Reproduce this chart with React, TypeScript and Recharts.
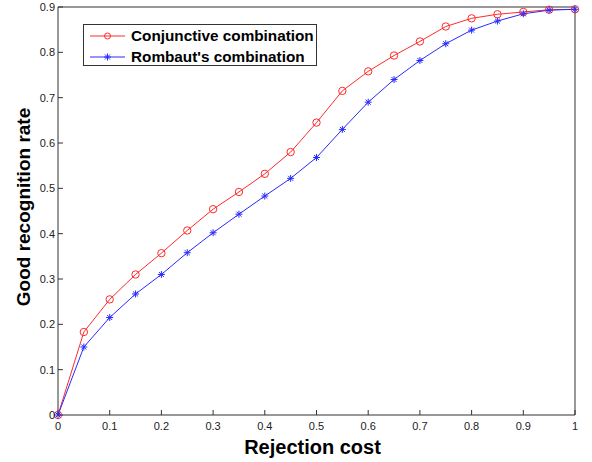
import { CartesianGrid, Label, Legend, Line, LineChart, XAxis, YAxis } from "recharts";

// Rejection cost (x) against good recognition rate for the two combination rules.
const rejectionCost = [
  0, 0.05, 0.1, 0.15, 0.2, 0.25, 0.3, 0.35, 0.4, 0.45, 0.5,
  0.55, 0.6, 0.65, 0.7, 0.75, 0.8, 0.85, 0.9, 0.95, 1,
];
const conjunctive = [
  0, 0.183, 0.255, 0.31, 0.357, 0.407, 0.454, 0.492, 0.532, 0.58, 0.645,
  0.715, 0.758, 0.793, 0.824, 0.857, 0.875, 0.884, 0.889, 0.894, 0.895,
];
const rombaut = [
  0, 0.15, 0.215, 0.267, 0.31, 0.358, 0.402, 0.443, 0.483, 0.522, 0.568,
  0.63, 0.69, 0.74, 0.782, 0.819, 0.849, 0.869, 0.885, 0.893, 0.895,
];
const xTicks = [0, 0.1, 0.2, 0.3, 0.4, 0.5, 0.6, 0.7, 0.8, 0.9, 1];
const yTicks = [0, 0.1, 0.2, 0.3, 0.4, 0.5, 0.6, 0.7, 0.8, 0.9];

const seriesNames = ["Conjunctive combination", "Rombaut's combination"];
const RED = "#ff2a2a";
const BLUE = "#2a2aff";
const AXIS = "#333";
const FONT = "'Liberation Sans', Arial, Helvetica, sans-serif";

const rows = rejectionCost.map((x, i) => ({
  x,
  conj: conjunctive[i],
  romb: rombaut[i],
}));

const fmt = (v: number) => String(v);

function Asterisk(props: any) {
  const { cx, cy, stroke } = props;
  if (cx == null || cy == null) return null;
  const r = 3.5;
  const d = r * 0.72;
  return (
    <g stroke={stroke} strokeWidth={1}>
      <line x1={cx - r} y1={cy} x2={cx + r} y2={cy} />
      <line x1={cx} y1={cy - r} x2={cx} y2={cy + r} />
      <line x1={cx - d} y1={cy - d} x2={cx + d} y2={cy + d} />
      <line x1={cx - d} y1={cy + d} x2={cx + d} y2={cy - d} />
    </g>
  );
}

function LegendBox() {
  const item = (name: string, color: string, star: boolean) => (
    <div style={{ display: "flex", alignItems: "center", height: 21 }}>
      <svg width={42} height={12} style={{ marginLeft: 5 }}>
        <line x1={1} y1={6} x2={36} y2={6} stroke={color} strokeWidth={1} />
        {star ? (
          <Asterisk cx={18.5} cy={6} stroke={color} />
        ) : (
          <circle cx={18.5} cy={6} r={3} fill="none" stroke={color} />
        )}
      </svg>
      <span style={{ fontWeight: "bold", fontSize: 15.3, color: "#000" }}>{name}</span>
    </div>
  );
  return (
    <div
      style={{
        border: `1px solid ${AXIS}`,
        background: "#fff",
        width: 232,
        height: 40,
        fontFamily: FONT,
        lineHeight: "21px",
      }}
    >
      {item(seriesNames[0], RED, false)}
      {item(seriesNames[1], BLUE, true)}
    </div>
  );
}

const tickStyle = { fontSize: 11, fill: "#222", fontFamily: FONT };

export default function App() {
  return (
    <div style={{ position: "absolute", left: 0, top: 0, background: "#fff" }}>
      <LineChart width={592} height={462} data={rows} margin={{ top: 0, right: 0, bottom: 0, left: 0 }}>
        <CartesianGrid stroke="none" />
        <XAxis
          dataKey="x"
          type="number"
          domain={[0, 1]}
          ticks={xTicks}
          tickFormatter={fmt}
          height={47}
          stroke={AXIS}
          tickSize={-5}
          tickMargin={12}
          tick={tickStyle}
          interval={0}
        >
          <Label
            content={({ viewBox }: any) => (
              <text
                x={viewBox.x + viewBox.width / 2 - 4}
                y={viewBox.y + 39}
                textAnchor="middle"
                fontFamily={FONT}
                fontWeight="bold"
                fontSize={20}
                fill="#000"
              >
                Rejection cost
              </text>
            )}
          />
        </XAxis>
        <XAxis
          xAxisId="top"
          orientation="top"
          type="number"
          domain={[0, 1]}
          ticks={xTicks}
          height={7}
          stroke={AXIS}
          tickSize={-5}
          tick={false}
        />
        <YAxis
          type="number"
          domain={[0, 0.9]}
          ticks={yTicks}
          tickFormatter={fmt}
          width={58}
          stroke={AXIS}
          tickSize={-5}
          tickMargin={8}
          tick={tickStyle}
          interval={0}
        >
          <Label
            content={({ viewBox }: any) => {
              const cx = viewBox.x + 30;
              const cy = viewBox.y + viewBox.height / 2 - 4;
              return (
                <text
                  x={cx}
                  y={cy}
                  transform={`rotate(-90 ${cx} ${cy})`}
                  textAnchor="middle"
                  fontFamily={FONT}
                  fontWeight="bold"
                  fontSize={19}
                  fill="#000"
                >
                  Good recognition rate
                </text>
              );
            }}
          />
        </YAxis>
        <YAxis
          yAxisId="right"
          orientation="right"
          type="number"
          domain={[0, 0.9]}
          ticks={yTicks}
          width={17}
          stroke={AXIS}
          tickSize={-5}
          tick={false}
        />
        <Legend
          layout="vertical"
          align="center"
          verticalAlign="middle"
          content={() => <LegendBox />}
          wrapperStyle={{ left: 83, top: 24, width: "auto", height: "auto" }}
        />
        <Line
          dataKey="conj"
          name={seriesNames[0]}
          stroke={RED}
          strokeWidth={1}
          dot={{ r: 3.7, fill: "none", stroke: RED, strokeWidth: 1 }}
          isAnimationActive={false}
        />
        <Line
          dataKey="romb"
          name={seriesNames[1]}
          stroke={BLUE}
          strokeWidth={1}
          dot={(p: any) => <Asterisk key={p.index} cx={p.cx} cy={p.cy} stroke={BLUE} />}
          isAnimationActive={false}
        />
      </LineChart>
    </div>
  );
}
